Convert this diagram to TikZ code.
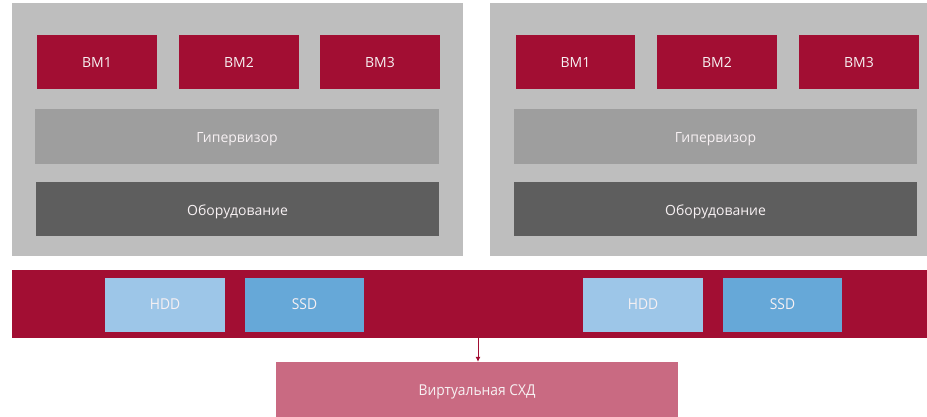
\documentclass[tikz,border=0pt]{standalone}
\usepackage{fontspec}
\usetikzlibrary{arrows.meta}
\setmainfont{Open Sans}
\definecolor{hostbg}{HTML}{BEBEBE}
\definecolor{vmred}{HTML}{A20E33}
\definecolor{hyp}{HTML}{9E9E9E}
\definecolor{hw}{HTML}{5E5E5E}
\definecolor{hdd}{HTML}{9DC6E8}
\definecolor{ssd}{HTML}{66A8D8}
\definecolor{vstor}{HTML}{C96A82}
\definecolor{txt}{HTML}{F7F1F3}
\begin{document}
\begin{tikzpicture}[x=1pt,y=-1pt,
  box/.style={draw=none,inner sep=0pt,text=txt,text height=1.2em,text depth=0pt,font=\fontsize{14}{16}\selectfont},
  narrow/.style={box,text height=1.05em,font=\fontsize{15}{17}\selectfont\addfontfeatures{FakeStretch=0.92}}]
\useasboundingbox (0,0) rectangle (927,417);
% hosts
\fill[hostbg] (12,3) rectangle (463,256);
\fill[hostbg] (490,3) rectangle (927,256);
% left host
\node[box,fill=vmred,minimum width=120pt,minimum height=54pt] (vm1a) at (97,62) {ВМ1};
\node[box,fill=vmred,minimum width=120pt,minimum height=54pt] (vm2a) at (239,62) {ВМ2};
\node[box,fill=vmred,minimum width=120pt,minimum height=54pt] (vm3a) at (380,62) {ВМ3};
\node[box,fill=hyp,minimum width=404pt,minimum height=55pt] (hypa) at (237,136.5) {Гипервизор};
\node[box,fill=hw,minimum width=403pt,minimum height=54pt] (hwa) at (237.5,209) {Оборудование};
% right host
\node[box,fill=vmred,minimum width=119pt,minimum height=54pt] (vm1b) at (575.5,62) {ВМ1};
\node[box,fill=vmred,minimum width=120pt,minimum height=54pt] (vm2b) at (717,62) {ВМ2};
\node[box,fill=vmred,minimum width=120pt,minimum height=54pt] (vm3b) at (859,62) {ВМ3};
\node[box,fill=hyp,minimum width=403pt,minimum height=55pt] (hypb) at (715.5,136.5) {Гипервизор};
\node[box,fill=hw,minimum width=403pt,minimum height=54pt] (hwb) at (715.5,209) {Оборудование};
% storage band
\node[box,fill=vmred,minimum width=915pt,minimum height=68pt] (band) at (469.5,304) {};
\node[narrow,fill=hdd,minimum width=120pt,minimum height=54pt] (hdda) at (165,304.5) {HDD};
\node[narrow,fill=ssd,minimum width=119pt,minimum height=54pt] (ssda) at (304.5,304.5) {SSD};
\node[narrow,fill=hdd,minimum width=120pt,minimum height=54pt] (hddb) at (643,304.5) {HDD};
\node[narrow,fill=ssd,minimum width=119pt,minimum height=54pt] (ssdb) at (782.5,304.5) {SSD};
% virtual storage
\node[narrow,fill=vstor,minimum width=402pt,minimum height=56pt] (vsd) at (477,390) {Виртуальная СХД};
\coordinate (arrs) at (478,338);
\draw[vmred,line width=0.8pt,-{Latex[length=5pt,width=5pt]}] (arrs) -- (arrs |- vsd.north);
\end{tikzpicture}
\end{document}
